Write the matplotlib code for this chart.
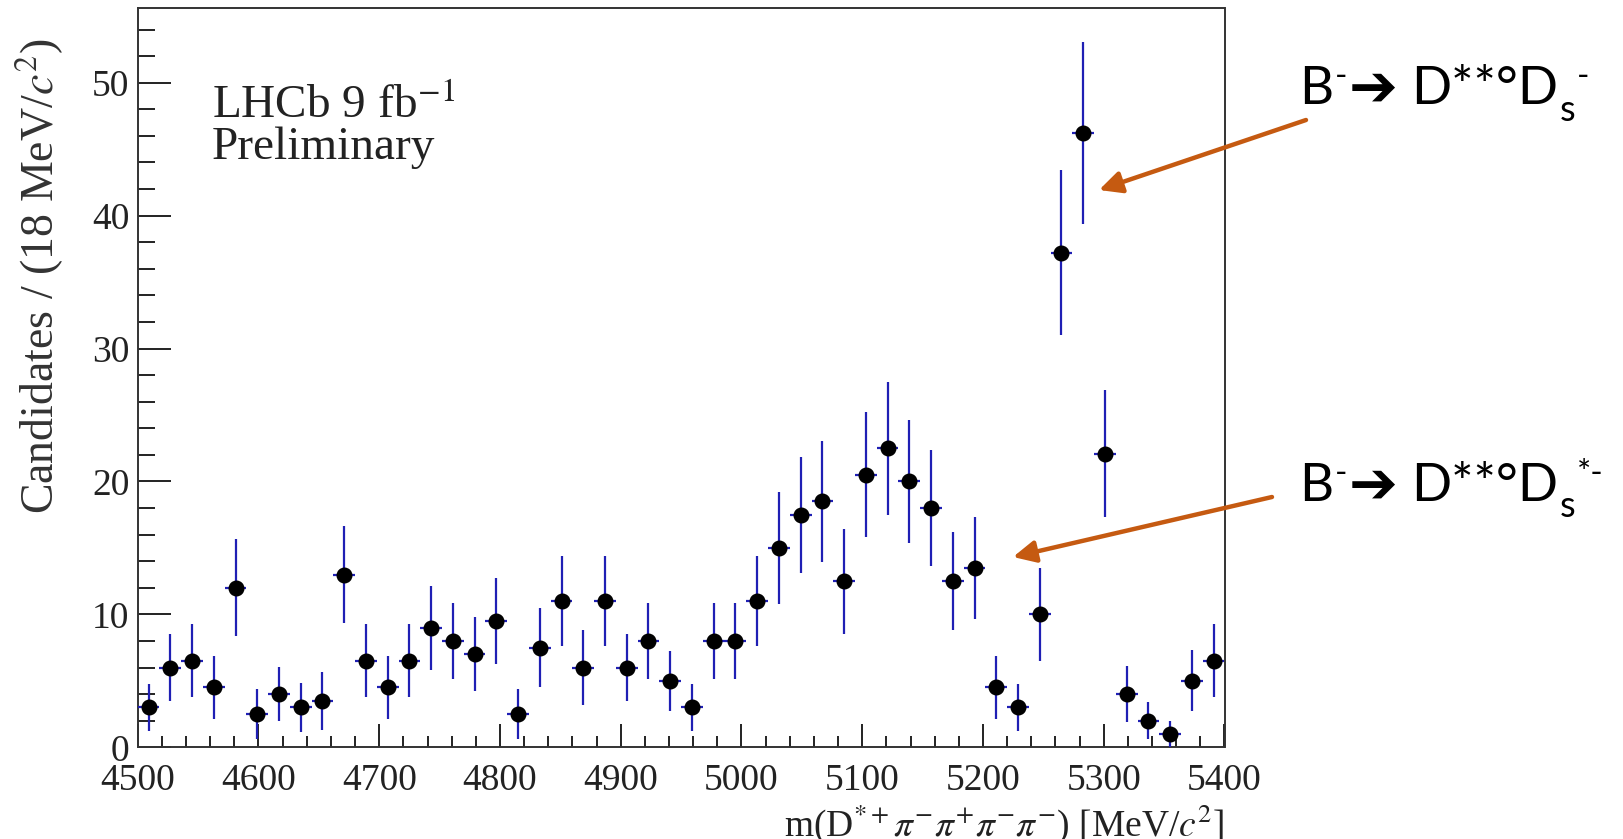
import matplotlib
matplotlib.use("Agg")
import matplotlib.pyplot as plt
from matplotlib.ticker import MultipleLocator

# Histogram of m(D*+ pi- pi+ pi- pi-), 18 MeV bins from 4500 to 5400
BIN_CENTRES = [4509, 4527, 4545, 4563, 4581, 4599, 4617, 4635, 4653, 4671,
               4689, 4707, 4725, 4743, 4761, 4779, 4797, 4815, 4833, 4851,
               4869, 4887, 4905, 4923, 4941, 4959, 4977, 4995, 5013, 5031,
               5049, 5067, 5085, 5103, 5121, 5139, 5157, 5175, 5193, 5211,
               5229, 5247, 5265, 5283, 5301, 5319, 5337, 5355, 5373, 5391]
CANDIDATES = [3.0, 6.0, 6.5, 4.5, 12.0, 2.5, 4.0, 3.0, 3.5, 13.0,
              6.5, 4.5, 6.5, 9.0, 8.0, 7.0, 9.5, 2.5, 7.5, 11.0,
              6.0, 11.0, 6.0, 8.0, 5.0, 3.0, 8.0, 8.0, 11.0, 15.0,
              17.5, 18.5, 12.5, 20.5, 22.5, 20.0, 18.0, 12.5, 13.5, 4.5,
              3.0, 10.0, 37.2, 46.2, 22.1, 4.0, 2.0, 1.0, 5.0, 6.5]
ERRORS = [1.8, 2.5, 2.75, 2.35, 3.65, 1.9, 2.05, 1.85, 2.2, 3.65,
          2.75, 2.35, 2.75, 3.15, 2.85, 2.8, 3.2, 1.9, 2.95, 3.4,
          2.8, 3.4, 2.5, 2.85, 2.25, 1.8, 2.85, 2.85, 3.4, 4.2,
          4.35, 4.55, 3.95, 4.7, 5.0, 4.65, 4.35, 3.7, 3.85, 2.35,
          1.75, 3.5, 6.2, 6.85, 4.8, 2.1, 1.4, 0.95, 2.3, 2.75]
BIN_WIDTH = 18

X_TICKS = [4500, 4600, 4700, 4800, 4900, 5000, 5100, 5200, 5300, 5400]
Y_TICKS = [0, 10, 20, 30, 40, 50]

W, H = 1623, 839

plt.rcParams["font.family"] = ["Liberation Serif", "DejaVu Serif"]
plt.rcParams["mathtext.fontset"] = "stix"

fig = plt.figure(figsize=(W / 100, H / 100), dpi=100)
ax = fig.add_axes([137.7 / W, 1 - 747.3 / H, 1086.8 / W, 739.0 / H])


def fig_frac(px, py):
    """Pixel position (from top-left) to figure fraction."""
    return px / W, 1 - py / H


ax.errorbar(BIN_CENTRES, CANDIDATES, yerr=ERRORS, xerr=BIN_WIDTH / 2,
            fmt="o", color="black", ms=10.5, ecolor="#1f1fb4",
            elinewidth=1.6, capsize=0, zorder=3)

ax.set_xlim(X_TICKS[0], X_TICKS[-1])
ax.set_ylim(0, 55.6)
ax.set_xticks(X_TICKS)
ax.set_yticks(Y_TICKS)
ax.xaxis.set_minor_locator(MultipleLocator(20))
ax.yaxis.set_minor_locator(MultipleLocator(2))

ink = "#222222"
ax.tick_params(which="both", direction="in", top=False, right=False,
               colors=ink, width=1.4, labelsize=27)
ax.tick_params(axis="x", which="major", length=16.5, pad=12)
ax.tick_params(axis="x", which="minor", length=8)
ax.tick_params(axis="y", which="major", length=24, pad=6)
ax.tick_params(axis="y", which="minor", length=12)
for sp in ax.spines.values():
    sp.set_linewidth(1.4)
    sp.set_color("#333333")

ax.set_ylabel(r"Candidates / (18 MeV/$c^{2}$)", fontsize=33, loc="top",
              color="#333333")
ax.yaxis.set_label_coords(-0.066, 0.959)
ax.set_xlabel(r"m(D$^{*+}\pi^{-}\pi^{+}\pi^{-}\pi^{-}$) [MeV/$c^{2}$]",
              fontsize=27, loc="right", color=ink)
ax.xaxis.set_label_coords(1.0, -0.075)

ax.text(0.0684, 0.851, r"LHCb 9 fb$^{-1}$", transform=ax.transAxes,
        fontsize=34, va="baseline", color=ink)
ax.text(0.0684, 0.796, "Preliminary", transform=ax.transAxes,
        fontsize=34, va="baseline", color=ink)


def decay_label(px, py, tail):
    """Chain text pieces (sans font, sub/superscripts) left to right."""
    x0, y0 = fig_frac(px, py)
    prev = fig.text(x0, y0, "B", fontsize=38, family="Lato", va="baseline")
    pieces = [("-", 24, 13, 1, ["Lato"], "normal"),
              ("\u2794", 42, -1, 1, ["DejaVu Sans"], "bold"),
              ("D**\u00b0D", 38, 0, 10, ["Lato"], "normal"),
              ("s", 26, -12, 1, ["Lato"], "normal"),
              (tail, 24, 13, 1, ["Lato"], "normal")]
    for text, size, rise, gap, fam, weight in pieces:
        prev = ax.annotate(text, xy=(1, y0), xycoords=(prev, "figure fraction"),
                           xytext=(gap, rise), textcoords="offset points",
                           fontsize=size, family=fam, fontweight=weight,
                           va="baseline", ha="left", annotation_clip=False)


decay_label(1299, 104, "-")
decay_label(1299, 500.7, "*-")

orange = "#C55A11"
for tail, head in [((1306, 120), (1099, 190)), ((1272, 497), (1013, 557))]:
    ax.annotate("", xy=fig_frac(*head), xycoords="figure fraction",
                xytext=fig_frac(*tail), textcoords="figure fraction",
                arrowprops=dict(arrowstyle="-|>,head_length=0.45,head_width=0.22",
                                color=orange, lw=3.2, mutation_scale=30,
                                shrinkA=0, shrinkB=0),
                annotation_clip=False)

fig.savefig("out.png", dpi=100)
